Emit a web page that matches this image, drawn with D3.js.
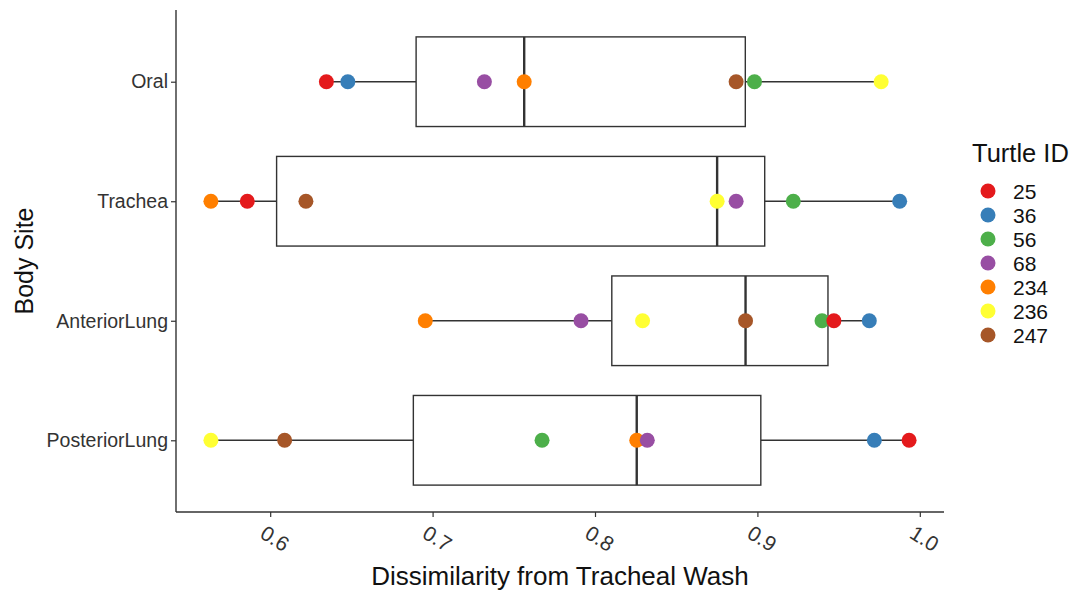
<!DOCTYPE html>
<html>
<head>
<meta charset="utf-8">
<script src="https://cdn.jsdelivr.net/npm/d3@7"></script>
<style>
  html, body { margin: 0; padding: 0; background: #fff; }
  svg { display: block; font-family: "Liberation Sans", Arial, sans-serif; }
</style>
</head>
<body>
<svg id="chart" width="1078" height="592"></svg>
<script>
// ---- data ----
const sites = ["Oral", "Trachea", "AnteriorLung", "PosteriorLung"];
const turtleIds = ["25", "36", "56", "68", "234", "236", "247"];
const turtleColors = ["#E41A1C", "#377EB8", "#4DAF4A", "#984EA3", "#FF7F00", "#FFFF33", "#A65628"];
// values per site, in turtleIds order
const oral          = [0.6346, 0.6478, 0.8982, 0.7319, 0.7564, 0.9762, 0.8869];
const trachea       = [0.5859, 0.9876, 0.9221, 0.8869, 0.5635, 0.8752, 0.6220];
const anteriorLung  = [0.9471, 0.9689, 0.9398, 0.7914, 0.6955, 0.8293, 0.8927];
const posteriorLung = [0.9934, 0.9720, 0.7674, 0.8322, 0.8257, 0.5635, 0.6089];
const xTicks = [0.6, 0.7, 0.8, 0.9, 1.0];
const xTitle = "Dissimilarity from Tracheal Wash";
const yTitle = "Body Site";
const legendTitle = "Turtle ID";

const siteValues = [oral, trachea, anteriorLung, posteriorLung];

const svg = d3.select("#chart");
const panel = { left: 176, right: 944, top: 10, bottom: 512 };

const allVals = siteValues.flat();
const lo = d3.min(allVals), hi = d3.max(allVals), span = hi - lo;
const x = d3.scaleLinear().domain([lo - 0.05 * span, hi + 0.05 * span]).range([panel.left, panel.right]);
const y = d3.scalePoint().domain(sites).range([panel.top, panel.bottom]).padding(0.6);
const color = d3.scaleOrdinal().domain(turtleIds).range(turtleColors);
const boxH = y.step() * 0.75;

const stroke = "#333333";

// ---- boxplots ----
const boxes = svg.append("g");
sites.forEach((s, i) => {
  const vals = siteValues[i].slice().sort(d3.ascending);
  const q1 = d3.quantile(vals, 0.25), med = d3.quantile(vals, 0.5), q3 = d3.quantile(vals, 0.75);
  const iqr = q3 - q1;
  const wLo = d3.min(vals.filter(v => v >= q1 - 1.5 * iqr));
  const wHi = d3.max(vals.filter(v => v <= q3 + 1.5 * iqr));
  const cy = y(s);
  const g = boxes.append("g");
  g.append("line").attr("x1", x(wLo)).attr("x2", x(q1)).attr("y1", cy).attr("y2", cy)
    .attr("stroke", stroke).attr("stroke-width", 1.4);
  g.append("line").attr("x1", x(q3)).attr("x2", x(wHi)).attr("y1", cy).attr("y2", cy)
    .attr("stroke", stroke).attr("stroke-width", 1.4);
  g.append("rect").attr("x", x(q1)).attr("y", cy - boxH / 2).attr("width", x(q3) - x(q1)).attr("height", boxH)
    .attr("fill", "white").attr("stroke", stroke).attr("stroke-width", 1.4);
  g.append("line").attr("x1", x(med)).attr("x2", x(med)).attr("y1", cy - boxH / 2).attr("y2", cy + boxH / 2)
    .attr("stroke", stroke).attr("stroke-width", 2.4);
});

// ---- points ----
const pts = [];
sites.forEach((s, i) => {
  turtleIds.forEach((id, j) => pts.push({ site: s, id: id, v: siteValues[i][j], order: j }));
});
pts.sort((a, b) => b.order - a.order);
svg.append("g").selectAll("circle").data(pts).join("circle")
  .attr("cx", d => x(d.v)).attr("cy", d => y(d.site)).attr("r", 7.5)
  .attr("fill", d => color(d.id));

// ---- axes ----
const xAxis = svg.append("g").attr("transform", `translate(0,${panel.bottom})`)
  .call(d3.axisBottom(x).tickValues(xTicks).tickSize(5).tickFormat(d3.format(".1f")));
xAxis.select(".domain").attr("stroke", stroke).attr("stroke-width", 1.4)
  .attr("d", `M${panel.left},0H${panel.right}`);
xAxis.selectAll(".tick line").attr("stroke", stroke).attr("stroke-width", 1.2);
xAxis.selectAll(".tick text")
  .attr("font-size", 21).attr("fill", "#333").attr("font-family", "Liberation Sans, Arial, sans-serif")
  .attr("text-anchor", "start").attr("dy", null).attr("y", 0).attr("x", 0)
  .attr("dominant-baseline", "hanging")
  .attr("transform", "translate(-4,12) rotate(32)");

const yAxis = svg.append("g").attr("transform", `translate(${panel.left},0)`)
  .call(d3.axisLeft(y).tickSize(5).tickPadding(3));
yAxis.select(".domain").attr("stroke", stroke).attr("stroke-width", 1.4)
  .attr("d", `M0,${panel.top}V${panel.bottom}`);
yAxis.selectAll(".tick line").attr("stroke", stroke).attr("stroke-width", 1.2);
yAxis.selectAll(".tick text").attr("font-size", 19.5).attr("fill", "#333")
  .attr("font-family", "Liberation Sans, Arial, sans-serif");

// ---- axis titles ----
svg.append("text").attr("x", (panel.left + panel.right) / 2).attr("y", 585)
  .attr("text-anchor", "middle").attr("font-size", 26).attr("fill", "#111").text(xTitle);
svg.append("text").attr("transform", `translate(33,${(panel.top + panel.bottom) / 2}) rotate(-90)`)
  .attr("text-anchor", "middle").attr("font-size", 25).attr("fill", "#111").text(yTitle);

// ---- legend ----
const lg = svg.append("g");
lg.append("text").attr("x", 972).attr("y", 162).attr("font-size", 25.5).attr("fill", "#111").text(legendTitle);
const items = lg.selectAll("g.item").data(turtleIds).join("g").attr("class", "item")
  .attr("transform", (d, i) => `translate(0,${191 + i * 24})`);
items.append("circle").attr("cx", 988).attr("cy", 0).attr("r", 7.5).attr("fill", d => color(d));
items.append("text").attr("x", 1013).attr("y", 0).attr("dy", "0.36em").attr("font-size", 21)
  .attr("fill", "#111").text(d => d);
</script>
</body>
</html>
